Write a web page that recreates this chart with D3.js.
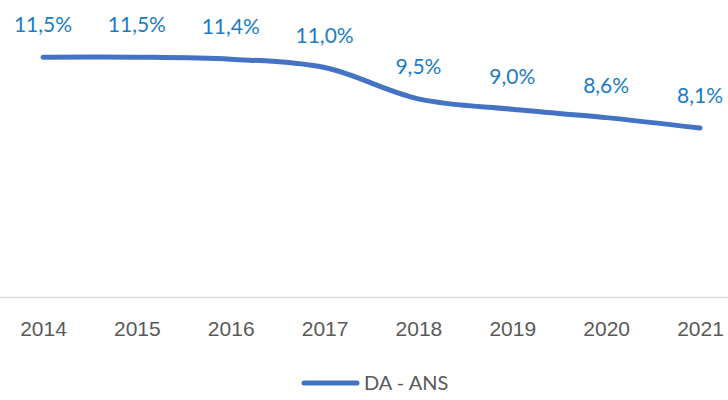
<!DOCTYPE html>
<html>
<head>
<meta charset="utf-8">
<script src="https://cdn.jsdelivr.net/npm/d3@7"></script>
<style>
  body { margin: 0; background: #fff; }
  svg { display: block; font-family: Lato, "Open Sans", sans-serif; }
</style>
</head>
<body>
<div id="chart"></div>
<script>
// Données du graphique
const years = ["2014", "2015", "2016", "2017", "2018", "2019", "2020", "2021"];
const values = [11.5, 11.5, 11.4, 11.0, 9.5, 9.0, 8.6, 8.1];
const seriesName = "DA - ANS";

const width = 728, height = 400;
const lineColor = "#4472c4";
const labelColor = "#1b7cc6";
const axisTextColor = "#595959";

const svg = d3.select("#chart").append("svg")
    .attr("width", width)
    .attr("height", height);

// Échelles
const x = d3.scalePoint()
    .domain(years)
    .range([43, 700]);

const y = d3.scaleLinear()
    .domain([0, 14])
    .range([297, 5]);

// Ligne de base de l'axe X
svg.append("line")
    .attr("x1", 0)
    .attr("x2", width)
    .attr("y1", y(0) + 0.5)
    .attr("y2", y(0) + 0.5)
    .attr("stroke", "#d9d9d9")
    .attr("stroke-width", 1.5);

// Axe X (étiquettes seulement)
const xAxis = svg.append("g")
    .attr("transform", `translate(0,${y(0)})`)
    .call(d3.axisBottom(x).tickSize(0).tickPadding(24));
xAxis.select(".domain").remove();
xAxis.selectAll("text")
    .attr("fill", axisTextColor)
    .style("font-size", "21px");

// Courbe lissée
const data = years.map((yr, i) => ({ year: yr, value: values[i] }));
const line = d3.line()
    .x(d => x(d.year))
    .y(d => y(d.value))
    .curve(d3.curveCatmullRom.alpha(0.5));

svg.append("path")
    .datum(data)
    .attr("d", line)
    .attr("fill", "none")
    .attr("stroke", lineColor)
    .attr("stroke-width", 5)
    .attr("stroke-linecap", "round");

// Étiquettes de données
const fmt = v => v.toFixed(1).replace(".", ",") + "%";
svg.selectAll(".label")
    .data(data)
    .enter().append("text")
    .attr("class", "label")
    .attr("x", d => x(d.year))
    .attr("y", d => y(d.value) - 25)
    .attr("text-anchor", "middle")
    .attr("fill", labelColor)
    .style("font-size", "21px")
    .text(d => fmt(d.value));

// Légende
const legend = svg.append("g");
legend.append("line")
    .attr("x1", 304).attr("x2", 357)
    .attr("y1", 383).attr("y2", 383)
    .attr("stroke", lineColor)
    .attr("stroke-width", 5)
    .attr("stroke-linecap", "round");
legend.append("text")
    .attr("x", 364)
    .attr("y", 390)
    .attr("fill", axisTextColor)
    .style("font-size", "20px")
    .text(seriesName);
</script>
</body>
</html>
